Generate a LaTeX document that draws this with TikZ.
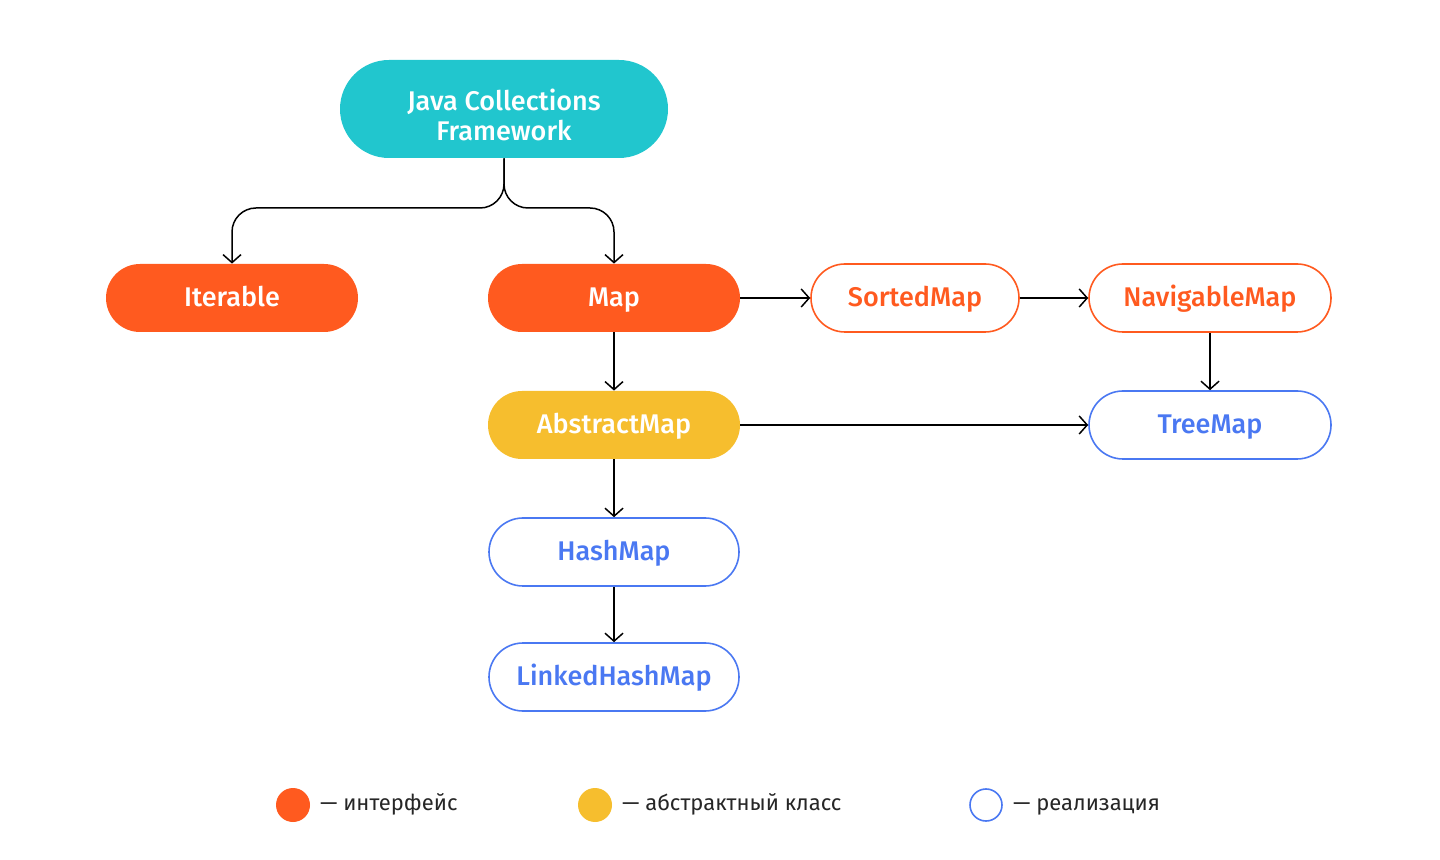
\documentclass[tikz,border=0pt]{standalone}
\usepackage{fontspec}
\setmainfont{Fira Sans Medium}
\newfontfamily\legendfont{Fira Sans}
\usetikzlibrary{arrows.meta}

\definecolor{jteal}{HTML}{21C6CE}
\definecolor{jorange}{HTML}{FF5A1F}
\definecolor{jyellow}{HTML}{F6BE2E}
\definecolor{jblue}{HTML}{4A78F2}

\begin{document}
\begin{tikzpicture}[x=.5pt,y=-.5pt,
    every node/.append style={font=\rmfamily\fontsize{13.5}{15}\selectfont, align=center},
    box/.style={minimum height=34pt, rounded corners=17pt, inner sep=0pt,
                text height=1.05em, text depth=.2em},
    iface/.style={box, fill=jorange, text=white},
    ifaceline/.style={box, draw=jorange, line width=.8pt, text=jorange, fill=white},
    absbox/.style={box, fill=jyellow, text=white},
    implbox/.style={box, draw=jblue, line width=.8pt, text=jblue, fill=white},
    link/.style={draw=black, line width=.75pt, -{Straight Barb[length=4pt,width=9pt]}},
    legendtext/.style={anchor=west, font=\legendfont\fontsize{11}{13}\selectfont, text=black!85,
                       text height=.75em, text depth=.25em}]
    \useasboundingbox (0,0) rectangle (1440,860);

    \node[fill=jteal, text=white, minimum width=164pt, minimum height=49pt,
          rounded corners=24.5pt, inner sep=0pt] (jcf) at (504,109)
          {\rule{0pt}{17pt}Java Collections\\Framework};

    \node[iface, minimum width=126pt] (iter) at (232,298) {Iterable};
    \node[iface, minimum width=126pt] (map) at (614,298) {Map};
    \node[ifaceline, minimum width=104pt] (sorted) at (915,298) {SortedMap};
    \node[ifaceline, minimum width=121pt] (navig) at (1210,298) {NavigableMap};
    \node[absbox, minimum width=126pt] (absmap) at (614,425) {AbstractMap};
    \node[implbox, minimum width=121pt] (tree) at (1210,425) {TreeMap};
    \node[implbox, minimum width=125pt] (hash) at (614,552) {HashMap};
    \node[implbox, minimum width=125pt] (linked) at (614,677) {LinkedHashMap};

    \coordinate (split) at (504,208);
    \draw[link, rounded corners=12pt] (jcf.south) -- (split) -| (iter.north);
    \draw[link, rounded corners=12pt] (jcf.south) -- (split) -| (map.north);
    \draw[link] (map.east) -- (sorted.west);
    \draw[link] (sorted.east) -- (navig.west);
    \draw[link] (navig.south) -- (tree.north);
    \draw[link] (map.south) -- (absmap.north);
    \draw[link] (absmap.east) -- (tree.west);
    \draw[link] (absmap.south) -- (hash.north);
    \draw[link] (hash.south) -- (linked.north);

    % legend
    \node[circle, fill=jorange, minimum size=17pt, inner sep=0pt] (lgiface) at (293,805) {};
    \node[legendtext] (lgifacet) at (313,805) {— интерфейс};
    \node[circle, fill=jyellow, minimum size=17pt, inner sep=0pt] (lgabs) at (595,805) {};
    \node[legendtext] (lgabst) at (615,805) {— абстрактный класс};
    \node[circle, draw=jblue, line width=.8pt, minimum size=16pt, inner sep=0pt] (lgimpl) at (986,805) {};
    \node[legendtext] (lgimplt) at (1006,805) {— реализация};
\end{tikzpicture}
\end{document}
